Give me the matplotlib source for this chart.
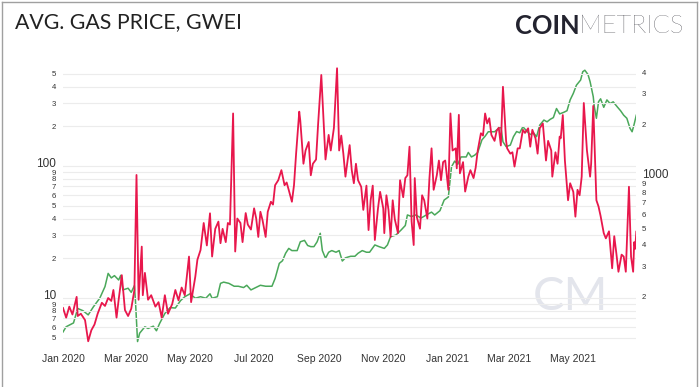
import numpy as np
import pandas as pd
import matplotlib
matplotlib.use("Agg")
from matplotlib import pyplot as plt
import matplotlib.dates as mdates
import matplotlib.transforms as mtransforms
from matplotlib.ticker import LogLocator, FuncFormatter
from matplotlib.lines import Line2D

plt.rcParams.update({
    "font.family": ["Liberation Sans", "DejaVu Sans"],
})

start = pd.Timestamp("2020-01-01")

# days since 2020-01-01, average gas price (gwei) -- left axis
gas_days = [0, 3, 6, 9, 13, 14, 17, 21, 24, 27, 30, 33, 37, 40, 43, 46, 48, 51, 53, 56,
            59, 62, 65, 68, 70, 72, 75, 76, 78, 81, 84, 88, 91, 94, 97, 100, 104, 107, 110, 113,
            116, 120, 122, 126, 128, 131, 134, 137, 140, 142, 145, 148, 150, 152, 155, 157, 159, 162, 164, 166,
            169, 171, 174, 176, 179, 182, 184, 186, 188, 190, 193, 195, 198, 200, 202, 205, 208, 211, 213, 215,
            218, 220, 222, 225, 226, 229, 231, 234, 236, 238, 241, 243, 246, 248, 250, 253, 255, 258, 261, 263,
            265, 267, 269, 273, 275, 277, 279, 281, 284, 286, 289, 291, 293, 295, 297, 300, 302, 305, 306, 308,
            310, 312, 314, 316, 319, 321, 324, 326, 328, 330, 332, 334, 335, 337, 340, 342, 344, 347, 349, 351,
            353, 356, 358, 360, 362, 364, 367, 369, 371, 374, 375, 377, 378, 381, 383, 386, 388, 391, 393, 395,
            398, 400, 402, 404, 406, 408, 411, 413, 415, 417, 419, 422, 423, 426, 428, 430, 433, 435, 438, 440,
            443, 445, 447, 450, 452, 454, 457, 460, 462, 465, 466, 469, 471, 473, 474, 476, 478, 481, 483, 486,
            488, 490, 492, 494, 496, 499, 502, 503, 505, 508, 510, 512, 515, 517, 520, 523, 525, 527, 529, 532,
            534, 536, 539, 541, 543, 544, 545, 546]
gas_gwei = [8.4, 7.1, 8.6, 7.5, 10.2, 7.3, 7.6, 6.8, 4.7, 5.7, 6.3, 7.6, 9.2, 8.7, 10, 9.5, 11.5, 7.1, 9.7, 14.9,
            8.1, 7.3, 8.3, 11.5, 85.5, 9.7, 24.5, 10.5, 15.5, 9.7, 10.5, 8.6, 9.3, 7.1, 10.5, 7.6, 9.0, 11.5, 9.6, 12,
            10.5, 20.6, 9.3, 14.5, 19.5, 23.1, 37, 25, 43.8, 20.6, 33.4, 37.9, 26, 33.4, 26.5, 37, 36, 250, 22.5, 40,
            37, 26.5, 44, 36, 33, 47.8, 40, 29, 45, 39, 29, 45, 53.6, 51, 71.5, 78, 93, 71.5, 75, 65.8,
            53.6, 71.5, 124, 258, 220, 104, 131, 152, 85, 104, 112, 210, 489, 230, 112, 172, 131, 194, 550, 131,
            170, 124, 83, 144, 93, 74, 104, 78, 69.6, 46.5, 71, 32.7, 55, 71, 27.5, 47.8, 63.7, 47.8, 31, 60,
            46.5, 29, 55, 39.5, 31, 78, 58, 81, 85, 140, 38, 25.2, 81, 41, 33.5, 60, 55, 40, 81, 136,
            66, 85, 110, 78, 107, 110, 66, 250, 131, 136, 96, 244, 88, 107, 64, 83, 93, 81, 97, 131,
            177, 170, 250, 210, 230, 172, 155, 185, 195, 143, 398, 155, 136, 124, 127, 99, 136, 136, 188, 178,
            193, 140, 188, 162, 124, 193, 210, 110, 155, 131, 83, 127, 104, 167, 162, 243, 110, 55, 74, 63.7,
            41.3, 66, 60, 83, 300, 131, 83, 104, 285, 55, 49.4, 41.8, 31, 28.3, 32, 16.8, 29.4, 21.8, 15.8, 21.3,
            20.6, 15.8, 69.6, 20.6, 15.8, 26.5, 23.6, 31.8]

# days since 2020-01-01, ETH price (USD) -- right axis
eth_days = [0, 3, 10, 14, 19, 24, 29, 35, 40, 43, 46, 49, 53, 55, 57, 62, 65, 68, 69, 71,
            73, 78, 81, 86, 89, 92, 97, 102, 107, 112, 116, 121, 126, 131, 136, 140, 142, 147, 150, 153,
            158, 163, 167, 172, 175, 179, 183, 188, 193, 199, 202, 206, 209, 212, 215, 218, 223, 226, 230, 233,
            236, 239, 242, 245, 247, 250, 253, 256, 260, 263, 266, 269, 274, 278, 281, 285, 289, 292, 297, 301,
            306, 309, 312, 317, 322, 326, 328, 332, 336, 341, 346, 351, 354, 359, 363, 367, 370, 373, 376, 379,
            384, 386, 389, 392, 395, 399, 402, 405, 408, 411, 415, 417, 419, 422, 426, 429, 432, 435, 438, 442,
            445, 448, 451, 454, 458, 461, 464, 467, 470, 473, 477, 480, 483, 486, 489, 493, 495, 497, 500, 502,
            505, 506, 508, 510, 512, 515, 518, 521, 524, 528, 531, 534, 537, 540, 542, 544, 546]
eth_usd = [125, 134, 141, 171, 166, 157, 175, 196, 229, 273, 257, 265, 250, 266, 219, 224, 212, 232, 190, 110,
           123, 134, 131, 135, 127, 140, 160, 173, 172, 190, 200, 208, 196, 200, 196, 208, 196, 200, 239, 243,
           239, 230, 230, 226, 233, 219, 225, 233, 230, 230, 255, 312, 323, 357, 381, 370, 370, 416, 424, 396,
           390, 390, 416, 466, 370, 334, 362, 370, 362, 370, 322, 336, 343, 343, 357, 370, 362, 362, 399, 390,
           381, 399, 446, 455, 487, 517, 595, 583, 595, 571, 595, 618, 595, 630, 726, 756, 1130, 1220, 1170, 1290,
           1290, 1370, 1290, 1320, 1370, 1620, 1700, 1805, 1805, 1805, 1890, 1930, 1580, 1480, 1510, 1690, 1810, 1780, 1930, 1810,
           1740, 1780, 1690, 1970, 2110, 2060, 2130, 2180, 2460, 2290, 2340, 2390, 2760, 3010, 3360, 3600, 4020, 4100, 3870, 3520,
           2880, 2520, 2160, 2690, 2800, 2500, 2760, 2630, 2690, 2510, 2390, 2250, 2160, 1890, 1805, 2000, 2250]

gas_dates = start + pd.to_timedelta(gas_days, unit="D")
eth_dates = start + pd.to_timedelta(eth_days, unit="D")

RED = "#e8174c"
GREEN = "#4aa85a"
LABEL = "#333333"

fig = plt.figure(figsize=(7, 3.87), dpi=100)
ax = fig.add_axes([0.090, 0.106, 0.819, 0.726])
ax2 = ax.twinx()
ax.set_zorder(2)
ax.patch.set_visible(False)

ax2.plot(eth_dates, eth_usd, color=GREEN, lw=1.1)
ax.plot(gas_dates, gas_gwei, color=RED, lw=1.3)

ax.set_yscale("log")
ax2.set_yscale("log")
ax.set_ylim(4.33, 582)
ax2.set_ylim(103.7, 4395)
ax.set_xlim(gas_dates[0], gas_dates[-1])


def minor_fmt(v, pos):
    d = v / 10 ** np.floor(np.log10(v) + 1e-9)
    return "%d" % round(d)


for a in (ax, ax2):
    a.yaxis.set_major_locator(LogLocator(base=10))
    a.yaxis.set_minor_locator(LogLocator(base=10, subs=np.arange(2, 10)))
    a.yaxis.set_major_formatter(FuncFormatter(lambda v, p: "%d" % round(v)))
    a.yaxis.set_minor_formatter(FuncFormatter(minor_fmt))
    a.tick_params(axis="y", which="major", length=0, labelsize=8.5, colors=LABEL)
    a.tick_params(axis="y", which="minor", length=0, labelsize=5.6, colors=LABEL)
    for s in a.spines.values():
        s.set_visible(False)

ax.tick_params(axis="y", which="both", pad=5)
ax2.tick_params(axis="y", which="both", pad=4)

# lift the decade labels a little so they clear the "9" beneath them
fig.canvas.draw()
for a, up in ((ax, 2.6), (ax2, 1.5)):
    lift = mtransforms.ScaledTranslation(0, up / 72, fig.dpi_scale_trans)
    for lab in a.get_yticklabels(which="major"):
        lab.set_transform(lab.get_transform() + lift)

ax.grid(True, which="both", axis="y", color="#ececec", lw=0.8)
ax.grid(False, axis="x")
ax.set_axisbelow(True)

ax.xaxis.set_major_locator(mdates.MonthLocator(bymonth=[1, 3, 5, 7, 9, 11]))
ax.xaxis.set_major_formatter(mdates.DateFormatter("%b %Y"))
ax.tick_params(axis="x", length=0, labelsize=7.5, colors=LABEL, pad=6)

fig.text(0.021, 0.943, "AVG. GAS PRICE, GWEI", family="Lato", fontsize=15.3,
         color="#222222", va="center", ha="left")
t1 = fig.text(0.735, 0.932, "COIN", family="Lato", fontweight="bold", fontsize=18.4,
              color="#23232f", va="center", ha="left")
fig.canvas.draw()
bb = t1.get_window_extent()
fig.text(bb.x1 / fig.bbox.width, 0.932, "METRICS", family="Lato", fontweight="light",
         fontsize=18.4, color="#15151f", va="center", ha="left")

fig.text(0.815, 0.232, "CM", family="Lato", fontweight="normal", fontsize=34,
         color="#e3e5ec", va="center", ha="center", zorder=0)

for xs, ys in (([0.003, 0.003], [0.0, 0.995]), ([0.003, 0.996], [0.995, 0.995]),
               ([0.996, 0.996], [0.995, 0.0])):
    fig.add_artist(Line2D(xs, ys, transform=fig.transFigure, color="#a0a0a0", lw=1.0))

fig.savefig("out.png", dpi=100)
